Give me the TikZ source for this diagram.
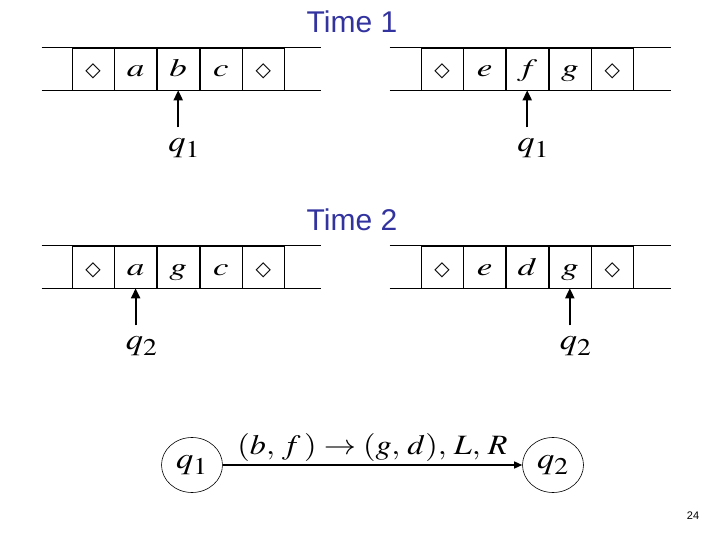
\documentclass[tikz,border=0pt]{standalone}
\usepackage{mathptmx}
\usepackage{fontspec}
\setsansfont{Liberation Sans}
\newfontfamily\symbolfont{DejaVu Sans}
\usepackage{tikz}
\usetikzlibrary{arrows.meta,positioning,shapes.geometric}
\definecolor{slideBlue}{HTML}{3333A0}
\DeclareMathSizes{30}{30}{24}{20}
\newcommand{\widemath}[2][1.4]{\scalebox{#1}[1]{$#2$}}

\begin{document}
\begin{tikzpicture}[
  x=1pt, y=-1pt,
  cell/.style={draw, line width=.6pt, minimum width=42pt, minimum height=42pt, inner sep=0pt, text height=20pt, text depth=4pt, font=\fontsize{25}{27}\selectfont},
  blank/.style={cell, font=\symbolfont\fontsize{20}{22}\selectfont},
  tapeline/.style={line width=.6pt},
  title/.style={font=\sffamily\fontsize{30}{32}\selectfont, text=slideBlue},
  headlabel/.style={font=\fontsize{30}{32}\selectfont, inner sep=0pt, outer xsep=0pt, outer ysep=11pt},
  headarrow/.style={-{Triangle[length=10pt, width=9pt]}, line width=2pt},
  state/.style={draw, ellipse, line width=.6pt, minimum width=61pt, minimum height=55pt, inner sep=0pt, font=\fontsize{30}{32}\selectfont},
  move/.style={-{Triangle[length=8pt, width=7pt]}, line width=1.3pt},
  movelabel/.style={font=\fontsize{28}{30}\selectfont, inner sep=3pt}
]
  \useasboundingbox (0,0) rectangle (720,540);

  \node[title] (time1) at (352,22) {Time 1};

  \node[blank] (oneL1) at (93,69) {◇};
  \node[cell, right=0pt of oneL1] (oneL2) {\widemath{a}};
  \node[cell, right=0pt of oneL2] (oneL3) {\widemath{b}};
  \node[cell, right=0pt of oneL3] (oneL4) {\widemath{c}};
  \node[blank, right=0pt of oneL4] (oneL5) {◇};
  \draw[tapeline] ([xshift=-30pt]oneL1.north west) -- ([xshift=36pt]oneL5.north east);
  \draw[tapeline] ([xshift=-30pt]oneL1.south west) -- ([xshift=36pt]oneL5.south east);

  \node[blank] (oneR1) at (442,69) {◇};
  \node[cell, right=0pt of oneR1] (oneR2) {\widemath{e}};
  \node[cell, right=0pt of oneR2] (oneR3) {\widemath{f}};
  \node[cell, right=0pt of oneR3] (oneR4) {\widemath{g}};
  \node[blank, right=0pt of oneR4] (oneR5) {◇};
  \draw[tapeline] ([xshift=-31pt]oneR1.north west) -- ([xshift=37pt]oneR5.north east);
  \draw[tapeline] ([xshift=-31pt]oneR1.south west) -- ([xshift=37pt]oneR5.south east);

  \node[headlabel, below=37pt of oneL3.south, xshift=6pt] (headOneL) {\widemath[1.15]{q_1}};
  \node[headlabel, below=37pt of oneR3.south, xshift=6pt] (headOneR) {\widemath[1.15]{q_1}};
  \draw[headarrow] (headOneL.north -| oneL3.south) -- (oneL3.south);
  \draw[headarrow] (headOneR.north -| oneR3.south) -- (oneR3.south);

  \node[title] (time2) at (352,220) {Time 2};

  \node[blank] (twoL1) at (93,267) {◇};
  \node[cell, right=0pt of twoL1] (twoL2) {\widemath{a}};
  \node[cell, right=0pt of twoL2] (twoL3) {\widemath{g}};
  \node[cell, right=0pt of twoL3] (twoL4) {\widemath{c}};
  \node[blank, right=0pt of twoL4] (twoL5) {◇};
  \draw[tapeline] ([xshift=-30pt]twoL1.north west) -- ([xshift=36pt]twoL5.north east);
  \draw[tapeline] ([xshift=-30pt]twoL1.south west) -- ([xshift=36pt]twoL5.south east);

  \node[blank] (twoR1) at (442,267) {◇};
  \node[cell, right=0pt of twoR1] (twoR2) {\widemath{e}};
  \node[cell, right=0pt of twoR2] (twoR3) {\widemath{d}};
  \node[cell, right=0pt of twoR3] (twoR4) {\widemath{g}};
  \node[blank, right=0pt of twoR4] (twoR5) {◇};
  \draw[tapeline] ([xshift=-31pt]twoR1.north west) -- ([xshift=37pt]twoR5.north east);
  \draw[tapeline] ([xshift=-31pt]twoR1.south west) -- ([xshift=37pt]twoR5.south east);

  \node[headlabel, below=37pt of twoL2.south, xshift=6pt] (headTwoL) {\widemath[1.15]{q_2}};
  \node[headlabel, below=37pt of twoR4.south, xshift=6pt] (headTwoR) {\widemath[1.15]{q_2}};
  \draw[headarrow] (headTwoL.north -| twoL2.south) -- (twoL2.south);
  \draw[headarrow] (headTwoR.north -| twoR4.south) -- (twoR4.south);

  \node[state] (q1) at (192,465) {\widemath[1.15]{q_1}};
  \node[state] (q2) at (553,465) {\widemath[1.15]{q_2}};
  \draw[move] (q1) -- node[movelabel, above] {\widemath[1.15]{(b,\,f\,)\rightarrow(g,\,d),\,L,\,R}} (q2);

  \node[font=\sffamily\fontsize{11}{13}\selectfont] (pagenum) at (693,516) {24};
\end{tikzpicture}
\end{document}
